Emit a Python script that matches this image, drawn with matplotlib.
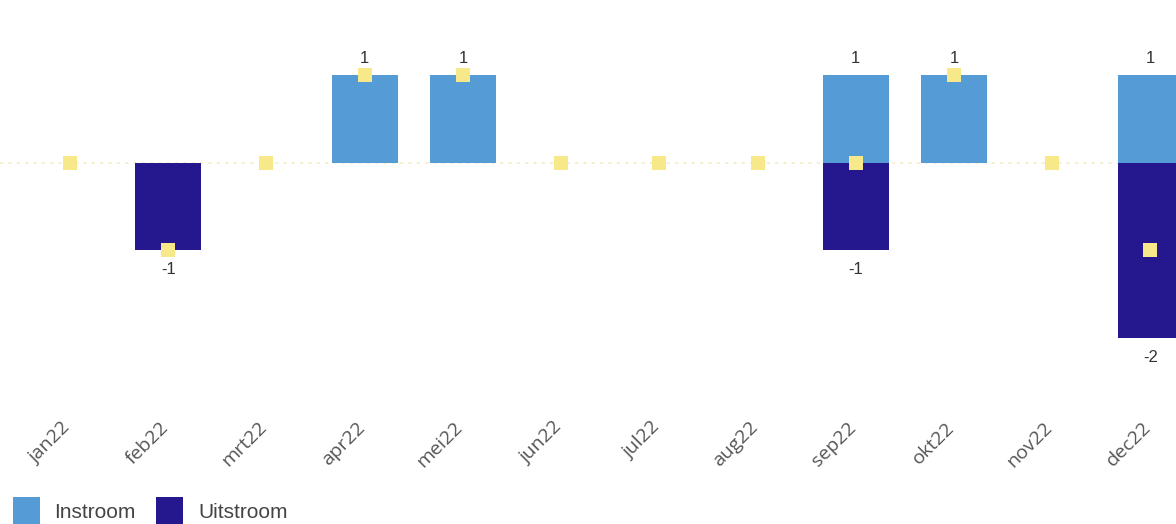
"""In- en uitstroom per maand (2022)"""

import matplotlib.pyplot as plt
import matplotlib.transforms as mtransforms
from matplotlib.patches import Patch

# Data
maanden = ['jan22', 'feb22', 'mrt22', 'apr22', 'mei22', 'jun22',
           'jul22', 'aug22', 'sep22', 'okt22', 'nov22', 'dec22']
instroom = [0, 0, 0, 1, 1, 0, 0, 0, 1, 1, 0, 1]
uitstroom = [0, -1, 0, 0, 0, 0, 0, 0, -1, 0, 0, -2]
saldo = [i + u for i, u in zip(instroom, uitstroom)]

kleur_in = '#559bd6'
kleur_uit = '#25178d'
kleur_saldo = '#f7e98a'

plt.rcParams['font.family'] = ['Liberation Sans', 'DejaVu Sans']

fig = plt.figure(figsize=(11.76, 5.24), dpi=100)
ax = fig.add_axes([0, 0.215, 1, 0.785])

x = list(range(len(maanden)))
ax.axhline(0, color='#f5eec8', linewidth=1.2, linestyle=(0, (2, 3)), zorder=1)
ax.bar(x, instroom, width=0.67, color=kleur_in, zorder=2)
ax.bar(x, uitstroom, width=0.67, color=kleur_uit, zorder=2)
ax.scatter(x, saldo, marker='s', s=115, color=kleur_saldo, zorder=4, linewidths=0)

# Labels boven/onder de balken
for xi, v in zip(x, instroom):
    if v > 0:
        ax.text(xi, v + 0.1, str(v), ha='center', va='bottom', fontsize=12, color='#333333')
for xi, v in zip(x, uitstroom):
    if v < 0:
        ax.text(xi, v - 0.13, str(v), ha='center', va='top', fontsize=12, color='#333333')

ax.set_xlim(-0.713, 11.26)
ax.set_ylim(-2.83, 1.85)
ax.set_xticks(x)
ax.set_xticklabels(maanden, rotation=45, ha='right', rotation_mode='anchor',
                   fontsize=14, color='#555555', family=['Open Sans', 'DejaVu Sans'])
ax.tick_params(axis='x', length=0, pad=5)
shift = mtransforms.ScaledTranslation(-9 / 100, 0, fig.dpi_scale_trans)
for lbl in ax.get_xticklabels():
    lbl.set_transform(lbl.get_transform() + shift)
ax.set_yticks([])
for s in ax.spines.values():
    s.set_visible(False)

handles = [Patch(facecolor=kleur_in, label='Instroom'),
           Patch(facecolor=kleur_uit, label='Uitstroom')]
fig.legend(handles=handles, loc='lower left', bbox_to_anchor=(0.0, -0.028), ncol=2,
           frameon=False, fontsize=15, handlelength=1.3, handleheight=1.8,
           handletextpad=0.7, columnspacing=1.0, borderaxespad=0.2,
           labelcolor='#444444')

fig.savefig('out.png', dpi=100)
